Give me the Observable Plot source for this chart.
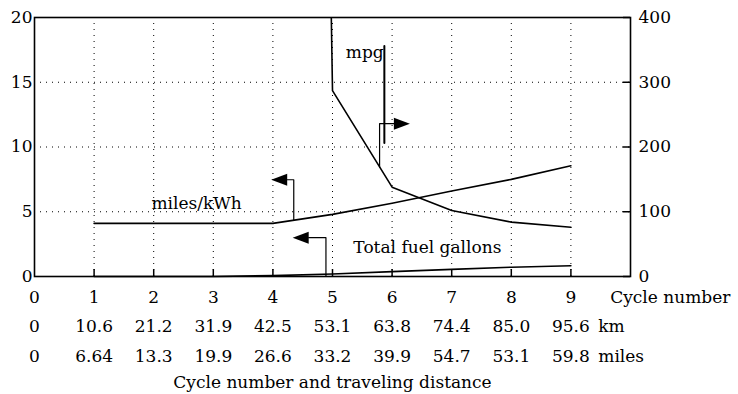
<!DOCTYPE html>
<html>
<head>
<meta charset="utf-8">
<script src="https://cdn.jsdelivr.net/npm/d3@7"></script>
<script src="https://cdn.jsdelivr.net/npm/@observablehq/plot@0.6"></script>
<style>
  html, body { margin: 0; padding: 0; background: #fff; }
  #chart { width: 738px; height: 394px; }
  #chart svg, #chart svg text { font-family: "DejaVu Serif", serif !important; }
</style>
</head>
<body>
<div id="chart"></div>
<script>
// ---- data ----
const cycleTicks = [0, 1, 2, 3, 4, 5, 6, 7, 8, 9];
const kmLabels = ["0", "10.6", "21.2", "31.9", "42.5", "53.1", "63.8", "74.4", "85.0", "95.6"];
const milesLabels = ["0", "6.64", "13.3", "19.9", "26.6", "33.2", "39.9", "54.7", "53.1", "59.8"];
const leftTicks = [0, 5, 10, 15, 20];
const rightTicks = [0, 100, 200, 300, 400];

const mpkwhCycle = [1, 2, 3, 4, 5, 6, 7, 8, 9];
const mpkwh = [4.1, 4.1, 4.1, 4.1, 4.8, 5.65, 6.6, 7.5, 8.55];

const mpgCycle = [4.98, 5, 6, 7, 8, 9];
const mpg = [400, 287, 138, 102, 84, 76];

const fuelCycle = [1, 2, 3, 4, 5, 6, 7, 8, 9];
const fuel = [0, 0, 0, 0.07, 0.19, 0.38, 0.55, 0.72, 0.83];

// annotation positions (cycle, left-axis units)
const mpkwhArrow = [[4.35, 4.35], [4.35, 7.47], [4.24, 7.47]];
const fuelArrow = [[4.89, 0], [4.89, 3.0], [4.6, 3.0]];
const mpgArrow = [[5.79, 8.45], [5.79, 11.8], [6.03, 11.8]];
const mpgLabelLine = [[5.87, 10.3], [5.87, 17.8]];
const labels = [
  {x: 5.86, y: 17.3, text: "mpg", anchor: "end"},
  {x: 2.72, y: 5.6, text: "miles/kWh", anchor: "middle"},
  {x: 5.35, y: 2.25, text: "Total fuel gallons", anchor: "start"}
];
const rowUnits = [
  {x: 9.66, row: 0, text: "Cycle number"},
  {x: 9.46, row: 1, text: "km"},
  {x: 9.46, row: 2, text: "miles"}
];
const xTitle = "Cycle number and traveling distance";

// ---- build ----
const FONT = "DejaVu Serif";
const FS = 17;
const ROW_DY = [21, 50, 80];
const arrowLeft = {draw(ctx) { ctx.moveTo(-16, 0); ctx.lineTo(0, -6); ctx.lineTo(0, 6); ctx.closePath(); }};
const arrowRight = {draw(ctx) { ctx.moveTo(16, 0); ctx.lineTo(0, -6); ctx.lineTo(0, 6); ctx.closePath(); }};

const mpkwhData = mpkwhCycle.map((c, i) => ({c, v: mpkwh[i]}));
const mpgData = mpgCycle.map((c, i) => ({c, v: mpg[i] / 20}));
const fuelData = fuelCycle.map((c, i) => ({c, v: fuel[i]}));
const rowData = cycleTicks.map((c, i) => ({c, km: kmLabels[i], mi: milesLabels[i]}));
const grid = {stroke: "black", strokeOpacity: 1, strokeWidth: 1, strokeDasharray: "1,5"};
const pathOpts = {x: d => d[0], y: d => d[1], stroke: "black"};
const txt = {fontSize: FS, fontFamily: FONT, fill: "black"};

const W = 738, H = 394, ML = 34, MR = 108, MT = 17, MB = 118;
const fw = W - ML - MR, fh = H - MT - MB;

const chart = Plot.plot({
  width: W, height: H,
  marginLeft: ML, marginRight: MR, marginTop: MT, marginBottom: MB,
  style: {fontFamily: FONT, fontSize: FS + "px", color: "black", background: "white", overflow: "visible"},
  x: {domain: [0, 10], axis: null},
  y: {domain: [0, 20], axis: null},
  marks: [
    Plot.gridX([1, 2, 3, 4, 5, 6, 7, 8, 9], grid),
    Plot.gridY([5, 10, 15], grid),
    Plot.axisY(leftTicks, {anchor: "left", tickSize: 0, tickPadding: 2, fontSize: FS, fontFamily: FONT}),
    Plot.axisY(rightTicks.map(d => d / 20), {anchor: "right", tickSize: 0, tickPadding: 8, tickFormat: d => String(Math.round(d * 20)), fontSize: FS, fontFamily: FONT}),
    Plot.tickY(rightTicks.map(d => d / 20), {y: d => d, insetLeft: fw - 7, stroke: "black", strokeWidth: 1.5}),
    Plot.tickX([1, 2, 3, 4, 5, 6, 7, 8, 9], {x: d => d, insetTop: fh - 7, stroke: "black", strokeWidth: 1.5}),
    Plot.line(mpkwhData, {x: "c", y: "v", stroke: "black", strokeWidth: 1.6}),
    Plot.line(mpgData, {x: "c", y: "v", stroke: "black", strokeWidth: 1.6, clip: true}),
    Plot.line(fuelData, {x: "c", y: "v", stroke: "black", strokeWidth: 1.6}),
    Plot.line(mpkwhArrow, {...pathOpts, strokeWidth: 1.2}),
    Plot.line(fuelArrow, {...pathOpts, strokeWidth: 1.2}),
    Plot.line(mpgArrow, {...pathOpts, strokeWidth: 1.2}),
    Plot.line(mpgLabelLine, {...pathOpts, strokeWidth: 2}),
    Plot.dot([mpkwhArrow[2]], {x: d => d[0], y: d => d[1], symbol: arrowLeft, fill: "black", stroke: null}),
    Plot.dot([fuelArrow[2]], {x: d => d[0], y: d => d[1], symbol: arrowLeft, fill: "black", stroke: null}),
    Plot.dot([mpgArrow[2]], {x: d => d[0], y: d => d[1], symbol: arrowRight, fill: "black", stroke: null}),
    Plot.text(labels.filter(d => d.anchor === "end"), {x: "x", y: "y", text: "text", textAnchor: "end", ...txt}),
    Plot.text(labels.filter(d => d.anchor === "middle"), {x: "x", y: "y", text: "text", textAnchor: "middle", ...txt}),
    Plot.text(labels.filter(d => d.anchor === "start"), {x: "x", y: "y", text: "text", textAnchor: "start", ...txt}),
    Plot.text(rowData, {x: "c", y: 0, text: d => String(d.c), dy: ROW_DY[0], ...txt}),
    Plot.text(rowData, {x: "c", y: 0, text: "km", dy: ROW_DY[1], ...txt}),
    Plot.text(rowData, {x: "c", y: 0, text: "mi", dy: ROW_DY[2], ...txt}),
    ...rowUnits.map(u => Plot.text([u], {x: "x", y: 0, dy: ROW_DY[u.row], text: "text", textAnchor: "start", ...txt})),
    Plot.text([xTitle], {x: 5, y: 0, text: d => d, dy: 106, ...txt}),
    Plot.frame({stroke: "black", strokeWidth: 1.6})
  ]
});
document.getElementById("chart").appendChild(chart);
</script>
</body>
</html>
